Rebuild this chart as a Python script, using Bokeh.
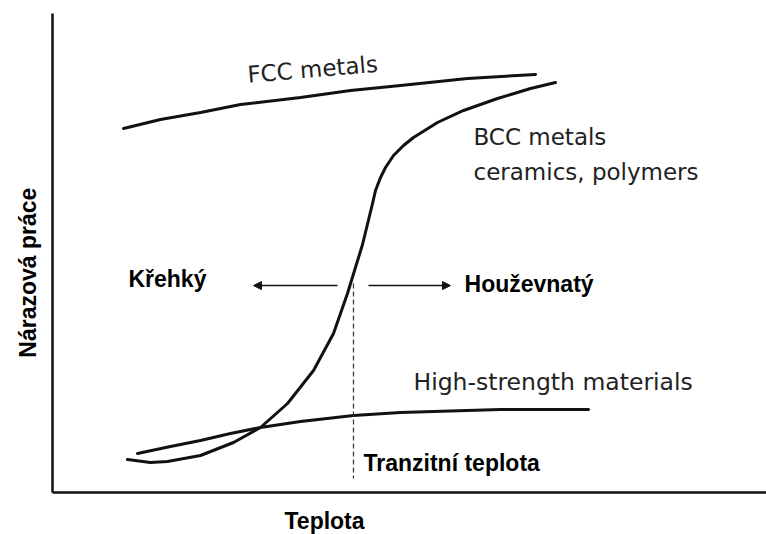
import math
from bokeh.plotting import figure
from bokeh.models import Range1d, Label, Arrow, NormalHead, FixedTicker
from bokeh.embed import file_html
from bokeh.resources import INLINE

# ---- data (arbitrary units: temperature 0..100, impact energy 0..100) ----
fcc_x = [10.06, 15.30, 20.96, 26.63, 35.13, 42.21, 49.29, 58.78, 68.41]
fcc_y = [75.99, 77.87, 79.33, 81.00, 82.46, 83.92, 84.97, 86.43, 87.27]

bcc_x = [10.62, 13.88, 16.29, 20.96, 25.64, 29.46, 33.29, 36.97, 39.80, 41.78,
         42.78, 43.91, 45.33, 45.75, 46.46, 47.17, 48.30, 49.72, 51.13, 54.53,
         58.22, 63.03, 67.71, 71.25]
bcc_y = [6.89, 6.26, 6.47, 7.72, 10.44, 13.57, 18.58, 25.47, 33.19, 41.54,
         46.35, 51.77, 60.33, 63.05, 65.76, 67.85, 70.35, 72.44, 74.11, 77.24,
         79.75, 82.25, 84.34, 85.59]

hs_x = [12.04, 16.71, 20.96, 25.21, 29.46, 35.13, 42.63, 49.29, 53.97, 63.46, 75.92]
hs_y = [8.14, 9.60, 10.86, 12.32, 13.57, 14.82, 16.08, 16.70, 16.91, 17.33, 17.33]

transition_x = 42.63
transition_y = [43.63, 2.92]
arrow_y = 43.2
arrow_left = [40.37, 28.47]
arrow_right = [44.76, 56.37]

x_label = "Teplota"
y_label = "Nárazová práce"

p = figure(width=766, height=534, output_backend="svg", toolbar_location=None,
           x_range=Range1d(-7.365, 101.13), y_range=Range1d(-8.768, 102.71),
           min_border=0)
p.outline_line_color = None
p.xgrid.visible = False
p.ygrid.visible = False
p.background_fill_color = "white"
p.border_fill_color = "white"

for ax in (p.xaxis, p.yaxis):
    ax.ticker = FixedTicker(ticks=[])
    ax.major_label_text_font_size = "0px"
    ax.major_tick_line_color = None
    ax.minor_tick_line_color = None
    ax.major_tick_out = 0
    ax.major_tick_in = 0
    ax.major_label_standoff = 0
    ax.axis_line_width = 2.5
    ax.axis_line_color = "#111111"
    ax.fixed_location = 0
p.xaxis.bounds = (0, 101.13)
p.yaxis.bounds = (0, 100)

curve_style = dict(line_color="#111111", line_width=3, line_cap="round", line_join="round")
p.line(fcc_x, fcc_y, **curve_style)
p.line(bcc_x, bcc_y, **curve_style)
p.line(hs_x, hs_y, **curve_style)

p.line([transition_x, transition_x], transition_y, line_color="#333333",
       line_width=1.2, line_dash="5 3")

for xs in (arrow_left, arrow_right):
    p.add_layout(Arrow(x_start=xs[0], y_start=arrow_y, x_end=xs[1], y_end=arrow_y,
                       line_width=1.6, line_color="#111111",
                       end=NormalHead(size=8, fill_color="#111111", line_color="#111111")))

hand = dict(text_font="DejaVu Sans", text_font_size="23px", text_color="#222222",
            text_baseline="alphabetic", text_align="left")
p.add_layout(Label(x=27.62, y=87.2, text="FCC metals", angle=0.085, **hand))
p.add_layout(Label(x=59.63, y=74.11, text="BCC metals", **hand))
p.add_layout(Label(x=59.63, y=67.01, text="ceramics, polymers", **hand))
p.add_layout(Label(x=51.13, y=23.17, text="High-strength materials",
                   **{**hand, "text_font_size": "23.5px"}))

bold = dict(text_font="Liberation Sans", text_font_style="bold", text_font_size="23px",
            text_color="#000000")
p.add_layout(Label(x=10.76, y=44.66, text="Křehký", text_align="left",
                   text_baseline="alphabetic", **bold))
p.add_layout(Label(x=58.36, y=43.63, text="Houževnatý", text_align="left",
                   text_baseline="alphabetic", **bold))
p.add_layout(Label(x=44.05, y=6.26, text="Tranzitní teplota", text_align="left",
                   text_baseline="alphabetic", **bold))

p.add_layout(Label(x=38.53, y=-6.05, text=x_label, text_align="center",
                   text_baseline="alphabetic", **bold))
p.add_layout(Label(x=-3.40, y=45.9, text=y_label, angle=math.pi / 2,
                   text_align="center", text_baseline="middle", **bold))

open("out.html", "w").write(file_html(p, INLINE))
